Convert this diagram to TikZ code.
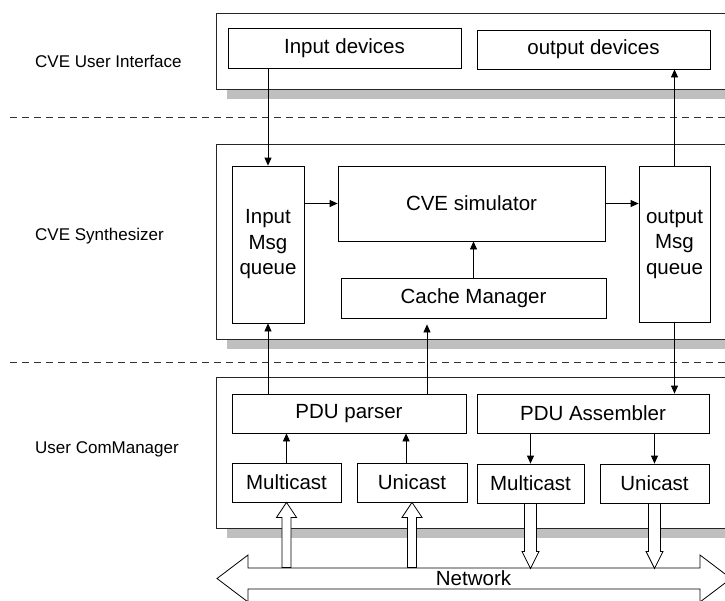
\documentclass[tikz,border=0pt]{standalone}
\usepackage{fontspec}
\setmainfont{Liberation Sans}
\usetikzlibrary{arrows.meta,calc,shadows}

\begin{document}
\begin{tikzpicture}[x=1pt,y=-1pt,
  panel/.style={draw=black!85,line width=1pt,fill=white,rectangle,inner sep=0pt,
     drop shadow={shadow xshift=11pt,shadow yshift=-10pt,fill=black!25,opacity=1}},
  box/.style={draw,line width=0.8pt,fill=white,rectangle,inner sep=0pt,align=center,
     font=\fontsize{20.5}{25.5}\selectfont},
  lbl/.style={anchor=west,inner sep=0pt,font=\fontsize{17}{20}\selectfont},
  layer/.style={draw=black!80,line width=0.9pt,dash pattern=on 7pt off 5pt},
  arr/.style={line width=0.8pt,-{Triangle[length=8pt,width=7pt]}},
  hollow/.style={draw,line width=0.8pt,fill=white,line join=miter},
  upblock/.pic={\draw[hollow] (0,0) -- (10,15) -- (4.5,15) -- (4.5,65) -- (-4.5,65)
     -- (-4.5,15) -- (-10,15) -- cycle;},
  downblock/.pic={\draw[hollow] (-6,0) -- (6,0) -- (6,48) -- (8.5,48) -- (0,65)
     -- (-8.5,48) -- (-6,48) -- cycle;}
]
\useasboundingbox (0,0) rectangle (725,600);
\clip (0,0) rectangle (725,600);
\fill[white] (0,0) rectangle (725,600);

% layer separators
\draw[layer] (10,117) -- (725,117);
\draw[layer] (10,362) -- (725,362);

% layer names
\node[lbl] (lui)  at (35,61)  {CVE User Interface};
\node[lbl] (lsyn) at (35,236) {CVE Synthesizer};
\node[lbl] (lcom) at (35,449) {User ComManager};

% layer panels
\node[panel,minimum width=514pt,minimum height=76pt]  (ui)  at (473,51)    {};
\node[panel,minimum width=514pt,minimum height=195pt] (syn) at (473,241.5) {};
\node[panel,minimum width=514pt,minimum height=151pt] (com) at (473,452.5) {};

% user interface
\node[box,minimum width=233pt,minimum height=40pt] (indev)  at (344.5,48)   {Input devices};
\node[box,minimum width=233pt,minimum height=39pt] (outdev) at (593.5,49.5) {output devices};

% synthesizer
\node[box,minimum width=72pt,minimum height=157pt]  (inq)   at (268,244.5)   {Input\\Msg\\queue};
\node[box,minimum width=267pt,minimum height=75pt]  (sim)   at (471.5,203.5) {CVE simulator};
\node[box,minimum width=265pt,minimum height=40pt]  (cache) at (473.5,298)   {Cache Manager};
\node[box,minimum width=71pt,minimum height=156pt]  (outq)  at (674.5,244)   {output\\Msg\\queue};

% communication manager
\node[box,minimum width=234pt,minimum height=39pt] (parser) at (349,413.5)   {PDU parser};
\node[box,minimum width=232pt,minimum height=39pt] (asm)    at (593,413.5)   {PDU Assembler};
\node[box,minimum width=109pt,minimum height=39pt] (mcL)    at (286.5,482.5) {Multicast};
\node[box,minimum width=110pt,minimum height=39pt] (ucL)    at (412,482.5)   {Unicast};
\node[box,minimum width=107pt,minimum height=39pt] (mcR)    at (530.5,483.5) {Multicast};
\node[box,minimum width=109pt,minimum height=39pt] (ucR)    at (654.5,483.5) {Unicast};

% message flow
\draw[arr] (inq.north |- indev.south) -- (inq.north);
\draw[arr] (outq.north) -- (outq.north |- outdev.south);
\draw[arr] (sim.west -| inq.east) -- (sim.west);
\draw[arr] (sim.east) -- (sim.east -| outq.west);
\draw[arr] (cache.north) -- (cache.north |- sim.south);
\draw[arr] (inq.south |- parser.north) -- (inq.south);
\coordinate (pc) at ($(parser.north)+(78,0)$);
\draw[arr,shorten >=6pt] (pc) -- (pc |- cache.south);
\draw[arr] (outq.south) -- (outq.south |- asm.north);
\draw[arr] (mcL.north) -- (mcL.north |- parser.south);
\coordinate (uc) at ($(ucL.north)+(-6,0)$);
\draw[arr] (uc) -- (uc |- parser.south);
\draw[arr] (asm.south -| mcR.north) -- (mcR.north);
\draw[arr] (asm.south -| ucR.north) -- (ucR.north);

% network
\draw[hollow] (217,578.5) -- (248,555) -- (248,568) -- (700,568) -- (700,555)
  -- (731,578.5) -- (700,602) -- (700,589) -- (248,589) -- (248,602) -- cycle;
\node[inner sep=0pt,font=\fontsize{20.5}{25}\selectfont] (net) at (473.5,578.5) {Network};

% network links
\pic at (mcL.south) {upblock};
\pic at (ucL.south) {upblock};
\pic at (mcR.south) {downblock};
\pic at (ucR.south) {downblock};
\end{tikzpicture}
\end{document}
